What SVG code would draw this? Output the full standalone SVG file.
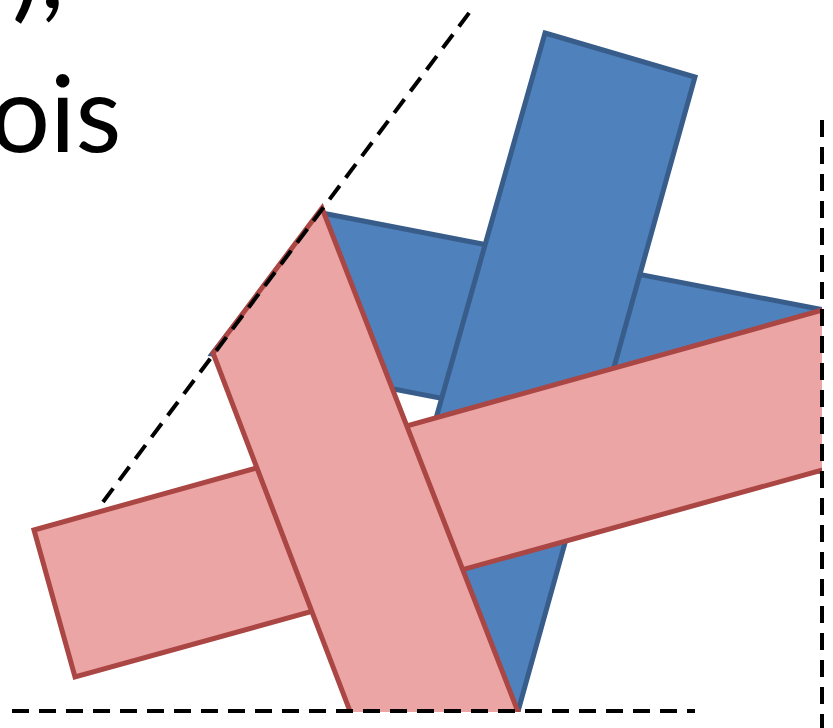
<svg xmlns="http://www.w3.org/2000/svg" width="833" height="728" viewBox="0 0 833 728">
  <style>
    .blue { fill: #4F81BD; stroke: #385D8A; stroke-width: 5; stroke-linejoin: miter; }
    .pink { fill: #EBA5A4; stroke: #AA4643; stroke-width: 5; stroke-linejoin: miter; }
    .dash { fill: none; stroke: #000000; stroke-width: 4; stroke-dasharray: 17 10; }
    .title { font-family: Lato, "Open Sans", "Liberation Sans", sans-serif; font-size: 106px; fill: #000000; }
  </style>
  <defs>
    <clipPath id="frame">
      <rect x="0" y="0" width="822" height="712"/>
    </clipPath>
  </defs>
  <rect x="0" y="0" width="833" height="728" fill="#FFFFFF"/>
  <g id="title">
    <text class="title" x="12" y="8">),</text>
    <text class="title" x="-10" y="152">ois</text>
  </g>
  <g clip-path="url(#frame)">
    <g id="blue-horizontal">
      <polygon class="blue" points="322,213 860,317 860,479 212,354"/>
    </g>
    <g id="blue-vertical">
      <polygon class="blue" points="545,33 695,77 510,740 345,740"/>
    </g>
    <g id="pink-horizontal">
      <polygon class="pink" points="34,530 860,299.5 860,459.6 75,677"/>
    </g>
    <g id="pink-diagonal">
      <polygon class="pink" points="213,353 322,208 529,740 361,740"/>
    </g>
  </g>
  <g id="connectors">
    <line class="dash" x1="103" y1="502" x2="475" y2="5"/>
    <line class="dash" x1="12" y1="711" x2="695" y2="711"/>
    <line class="dash" x1="822" y1="120" x2="822" y2="728"/>
  </g>
</svg>
